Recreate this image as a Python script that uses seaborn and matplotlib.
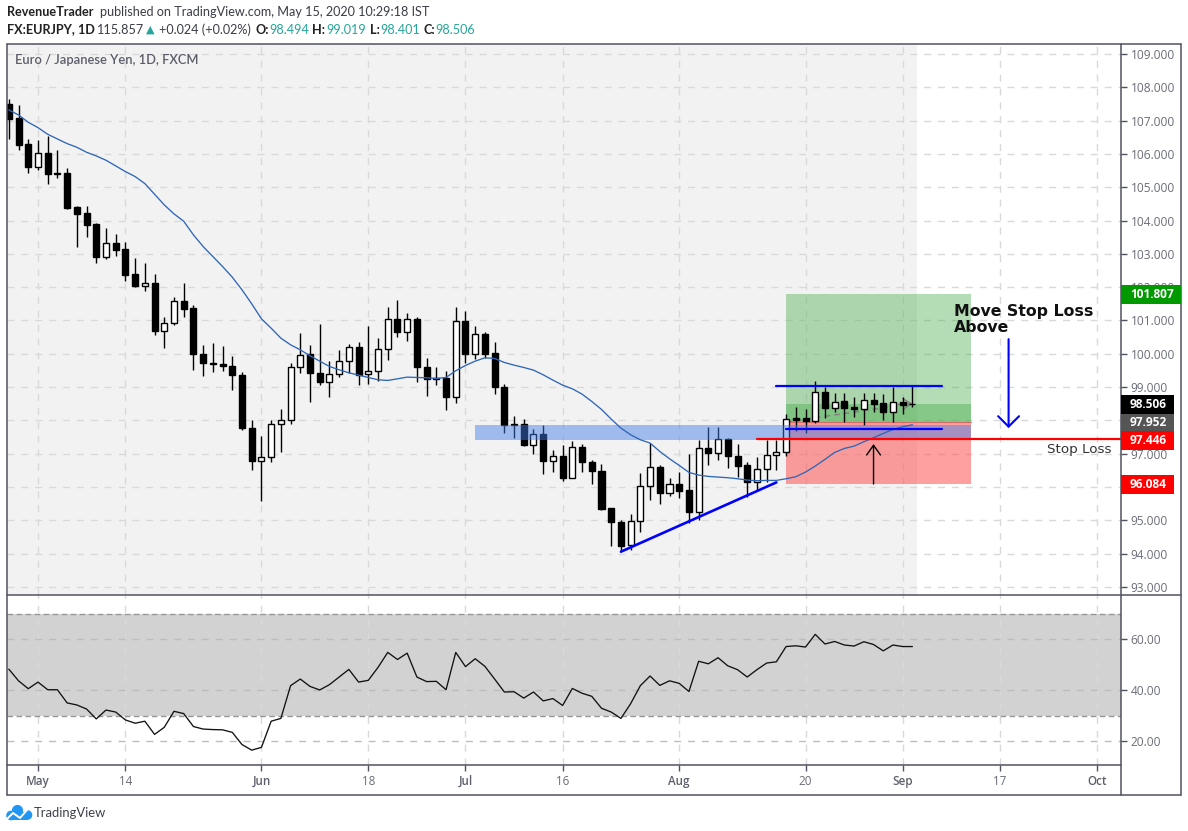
import matplotlib
matplotlib.use("Agg")
import matplotlib.pyplot as plt
import numpy as np
import pandas as pd
import seaborn as sns
from matplotlib.patches import Circle, Rectangle

# candles, one entry per daily bar
opens = [107.50, 107.08, 106.30, 105.62, 106.03, 105.43, 105.43, 104.40, 104.22, 103.90, 102.92, 103.32,
         103.15, 102.39, 102.05, 102.12, 100.67, 100.92, 101.58, 101.37, 99.99, 99.72, 99.69, 99.63,
         99.36, 97.77, 96.78, 96.90, 97.89, 98.01, 99.60, 99.98, 99.42, 99.14, 99.38, 99.78,
         100.20, 99.38, 99.48, 100.14, 101.04, 100.65, 101.04, 99.60, 99.27, 99.28, 98.70, 100.99,
         99.99, 100.60, 100.02, 99.00, 97.89, 97.89, 97.26, 97.60, 96.78, 96.93, 96.27, 97.20,
         96.75, 96.48, 95.37, 94.95, 94.25, 94.98, 96.03, 96.60, 95.81, 96.09, 95.91, 95.24,
         97.17, 97.01, 97.44, 96.92, 96.65, 96.14, 96.53, 96.95, 97.04, 98.06, 98.06, 97.99,
         98.84, 98.38, 98.57, 98.39, 98.35, 98.60, 98.51, 98.26, 98.55, 98.494]
highs = [107.65, 107.47, 106.44, 106.41, 106.54, 106.12, 105.57, 104.43, 104.44, 103.92, 103.77, 103.60,
         103.35, 102.88, 102.73, 102.40, 101.11, 101.70, 102.12, 101.46, 100.26, 100.32, 100.24, 99.94,
         99.45, 98.01, 97.54, 98.01, 98.34, 99.72, 100.62, 100.26, 100.89, 99.78, 100.12, 100.29,
         100.35, 100.84, 100.47, 101.40, 101.61, 101.22, 101.10, 99.87, 99.60, 99.48, 101.40, 101.28,
         100.82, 100.65, 100.35, 99.09, 98.14, 98.04, 97.74, 97.86, 97.11, 97.26, 97.39, 97.29,
         96.82, 96.69, 95.37, 95.02, 95.19, 96.42, 97.32, 96.65, 96.27, 96.46, 97.00, 97.40,
         97.81, 97.81, 97.47, 97.29, 96.74, 96.90, 97.41, 97.41, 98.19, 98.39, 98.33, 99.18,
         98.99, 98.81, 98.83, 98.69, 98.81, 98.81, 98.78, 99.01, 98.71, 99.019]
lows = [106.46, 106.13, 105.44, 105.52, 105.11, 105.28, 104.35, 103.22, 103.52, 102.74, 102.86, 102.95,
        102.20, 102.02, 101.90, 100.55, 100.18, 100.85, 101.12, 99.50, 99.34, 99.46, 99.49, 98.92,
        97.72, 96.50, 95.57, 96.74, 97.04, 97.90, 99.41, 98.54, 99.07, 98.69, 99.29, 99.42,
        99.07, 99.10, 99.17, 99.80, 100.49, 100.37, 99.14, 98.72, 99.05, 98.30, 98.51, 99.72,
        99.85, 99.87, 98.78, 97.61, 97.46, 97.22, 96.98, 96.40, 96.44, 96.17, 96.27, 96.46,
        96.10, 95.32, 94.22, 94.07, 94.12, 94.64, 95.62, 95.50, 95.72, 95.68, 94.92, 95.00,
        96.67, 96.82, 96.57, 96.31, 95.71, 95.91, 96.16, 96.51, 96.93, 97.69, 97.63, 97.92,
        98.06, 98.26, 97.94, 98.09, 97.87, 98.26, 98.01, 97.94, 98.19, 98.401]
closes = [107.05, 106.28, 105.62, 106.02, 105.41, 105.41, 104.39, 104.21, 103.88, 102.92, 103.32, 103.12,
          102.38, 102.05, 102.12, 100.67, 100.92, 101.58, 101.36, 99.98, 99.71, 99.68, 99.62, 99.35,
          97.76, 96.77, 96.90, 97.89, 98.01, 99.60, 99.96, 99.41, 99.14, 99.38, 99.78, 100.20,
          99.37, 99.48, 100.14, 101.04, 100.64, 101.04, 99.59, 99.24, 99.23, 98.69, 100.98, 99.98,
          100.59, 100.00, 98.99, 97.86, 97.85, 97.25, 97.58, 96.77, 96.93, 96.26, 97.20, 96.74,
          96.47, 95.35, 94.94, 94.24, 94.98, 96.03, 96.60, 95.81, 96.09, 95.89, 95.24, 97.17,
          97.01, 97.44, 96.92, 96.64, 96.14, 96.53, 96.95, 97.04, 98.03, 98.02, 97.99, 98.84,
          98.38, 98.56, 98.38, 98.34, 98.60, 98.49, 98.26, 98.54, 98.47, 98.506]

moving_avg = [107.32, 107.17, 106.95, 106.79, 106.59, 106.45, 106.31, 106.20, 106.05, 105.94, 105.81, 105.64,
              105.47, 105.32, 105.11, 104.79, 104.47, 104.20, 103.98, 103.57, 103.22, 102.92, 102.62, 102.30,
              101.92, 101.50, 101.05, 100.77, 100.47, 100.27, 100.12, 99.94, 99.78, 99.62, 99.52, 99.43,
              99.36, 99.29, 99.22, 99.20, 99.25, 99.30, 99.29, 99.28, 99.26, 99.29, 99.49, 99.65,
              99.78, 99.88, 99.86, 99.74, 99.66, 99.59, 99.51, 99.37, 99.21, 99.06, 98.95, 98.79,
              98.57, 98.33, 98.04, 97.77, 97.57, 97.42, 97.32, 97.07, 96.85, 96.65, 96.44, 96.36,
              96.32, 96.30, 96.28, 96.25, 96.21, 96.19, 96.20, 96.20, 96.25, 96.31, 96.45, 96.63,
              96.83, 97.04, 97.16, 97.23, 97.36, 97.48, 97.61, 97.73, 97.81, 97.87]

rsi = [48.3, 43.7, 40.6, 43.2, 40.2, 40.2, 35.0, 34.2, 32.6, 28.7, 32.2, 31.4,
       28.3, 27.0, 27.8, 22.6, 25.4, 31.7, 30.8, 25.7, 24.7, 24.5, 24.4, 23.4,
       18.6, 16.4, 17.5, 27.8, 28.9, 41.8, 44.4, 41.5, 40.1, 42.2, 45.2, 48.2,
       43.2, 43.9, 49.0, 54.9, 52.1, 54.6, 45.2, 43.4, 43.5, 40.2, 54.9, 49.3,
       52.4, 49.4, 44.4, 39.3, 39.4, 36.9, 39.3, 35.8, 36.7, 34.0, 40.7, 38.8,
       37.6, 32.9, 31.4, 28.9, 34.7, 41.8, 45.6, 41.9, 43.7, 42.7, 39.5, 51.4,
       50.4, 52.8, 49.6, 48.1, 45.2, 48.1, 50.7, 51.2, 57.2, 57.5, 57.0, 62.0,
       58.2, 59.2, 57.8, 57.4, 59.1, 58.0, 55.5, 57.8, 57.2, 57.2]

date_ticks = [3, 12, 26, 37, 47, 57, 69, 82, 92, 102, 112]
date_labels = ["May", "14", "Jun", "18", "Jul", "16", "Aug", "20", "Sep", "17", "Oct"]
price_ticks = list(range(93, 110))
covered_ticks = [96, 98]  # hidden behind the price tags on the axis
rsi_ticks = [20, 40, 60]

# position tool and hand drawn levels
target_price = 101.807
entry_price = 97.952
stop_price = 96.084
last_price = 98.506
stop_loss_line = 97.446
zone_low, zone_high = 97.41, 97.86
range_top, range_bottom = 99.02, 97.74
trend_x = [63, 79]
trend_y = [94.06, 96.14]

W, H = 1188, 831
INK = "#50535e"
LABEL = "#6a6d78"
GRID = "#d9d9d9"

sns.set_theme(style="white")
plt.rcParams["font.family"] = ["Open Sans", "DejaVu Sans"]

df = pd.DataFrame({"bar": np.arange(len(opens)), "open": opens, "high": highs, "low": lows,
                   "close": closes, "ma": moving_avg, "rsi": rsi})


def fx(x):
    return x / W


def fy(y):
    return 1 - y / H


def pane(left, top, right, bottom):
    return fig.add_axes([fx(left), fy(bottom), (right - left) / W, (bottom - top) / H])


def tag(text, top, bottom, colour, right=1174):
    fig.add_artist(Rectangle((fx(1121), fy(bottom)), (right - 1121) / W, (bottom - top) / H,
                             transform=fig.transFigure, fc=colour, ec="none", zorder=5))
    fig.text(fx(1130), fy((top + bottom) / 2), text, color="white", fontsize=8.6, fontweight="bold",
             va="center", ha="left", zorder=6)


fig = plt.figure(figsize=(W / 100, H / 100), dpi=100, facecolor="white")
ax = pane(6.5, 43.5, 1121, 595)
ax_rsi = pane(6.5, 595, 1121, 765)
dash = (0, (5, 5))

for a in (ax, ax_rsi):
    a.set_facecolor("none")
    a.set_axisbelow(True)
    a.set_xlim(-0.24, 114.47)
    a.set_xticks(date_ticks)
    a.grid(True, color=GRID, lw=1, ls=dash)
    a.yaxis.tick_right()
    for s in a.spines.values():
        s.set_visible(False)

# price pane
ax.set_ylim(92.76, 109.315)
ax.set_yticks(price_ticks)
ax.set_yticklabels(["" if p in covered_ticks else f"{p:.3f}" for p in price_ticks], color=LABEL, fontsize=8.6)
ax.tick_params(axis="y", length=4, width=1, color=INK, pad=3, right=True)
ax.tick_params(axis="x", length=0, labelbottom=False)
ax.axvspan(-0.24, 93.5, color="#f2f2f2", lw=0, zorder=0)

# long position box
ax.add_patch(Rectangle((80, entry_price), 19, target_price - entry_price, fc="#4caf50", alpha=0.42, lw=0, zorder=1))
ax.add_patch(Rectangle((80, entry_price), 19, last_price - entry_price, fc="#4caf50", alpha=0.45, lw=0, zorder=1))
ax.add_patch(Rectangle((80, stop_price), 19, entry_price - stop_price, fc="#ff5252", alpha=0.55, lw=0, zorder=1))
ax.plot([80, 99], [entry_price, entry_price], color="#d86a6a", lw=0.8, zorder=1.5)

# candles
up = df[df["close"] >= df["open"]]
down = df[df["close"] < df["open"]]
ax.vlines(df["bar"], df["low"], df["high"], color="black", lw=1.0, zorder=3)
ax.bar(up["bar"], up["close"] - up["open"], bottom=up["open"], width=0.62, fc="white", ec="black", lw=1.0, zorder=3.2)
ax.bar(down["bar"], down["close"] - down["open"], bottom=down["open"], width=0.62, fc="black", ec="black", lw=1.0, zorder=3.2)

# forecast dashes of the position tool
ax.plot([80, 93], [entry_price, last_price], color="#7d7d7d", lw=1, ls=(0, (4, 3)), zorder=2.5)
ax.annotate("", xy=(93, last_price), xytext=(91.5, last_price - 0.02),
            arrowprops=dict(arrowstyle="->,head_length=0.6,head_width=0.4", color="#7d7d7d", lw=1,
                            mutation_scale=10, shrinkA=0, shrinkB=0), zorder=2.5)

# resistance zone, sits on top of the candles
ax.add_patch(Rectangle((48, zone_low), 51, zone_high - zone_low, fc="#427ee9", alpha=0.47, lw=0, zorder=4))

sns.lineplot(data=df, x="bar", y="ma", ax=ax, color="#2f66b5", lw=0.95, estimator=None, legend=False, zorder=5)
ax.set_xlabel("")
ax.set_ylabel("")

ax.plot([79, 96], [range_top, range_top], color="#0000ff", lw=1.6, zorder=6)
ax.plot([80, 96], [range_bottom, range_bottom], color="#0000ff", lw=1.6, zorder=6)
ax.plot(trend_x, trend_y, color="#0000ff", lw=1.9, zorder=6)
ax.plot([77, 114.47], [stop_loss_line, stop_loss_line], color="#ff0000", lw=1.6, zorder=6)

ax.annotate("", xy=(89, 97.29), xytext=(89, 96.09),
            arrowprops=dict(arrowstyle="->,head_length=0.7,head_width=0.5", color="black", lw=1,
                            mutation_scale=10, shrinkA=0, shrinkB=0), zorder=7)
ax.annotate("", xy=(102.9, 97.77), xytext=(102.9, 100.44),
            arrowprops=dict(arrowstyle="->,head_length=0.75,head_width=0.75", color="#0000ff", lw=1.5,
                            mutation_scale=10, shrinkA=0, shrinkB=0), zorder=7)

fig.text(fx(954), fy(311.5), "Move Stop Loss", color="#111111", fontsize=11.3, fontweight="bold",
         family="DejaVu Sans", va="center", ha="left", zorder=8)
fig.text(fx(954), fy(327.5), "Above", color="#111111", fontsize=11.3, fontweight="bold",
         family="DejaVu Sans", va="center", ha="left", zorder=8)
fig.text(fx(1047), fy(449.5), "Stop Loss", color="#333333", fontsize=9.7, family="DejaVu Sans",
         va="center", ha="left", zorder=8)
fig.text(fx(15), fy(60.5), "Euro / Japanese Yen, 1D, FXCM", color="#5b5e68", fontsize=9.3,
         fontweight="semibold", family="Lato", va="center", ha="left")

# oscillator pane
ax_rsi.set_ylim(10.55, 77.5)
ax_rsi.axhspan(30, 70, color="#d2d2d2", lw=0, zorder=0)
ax_rsi.axhline(70, color="#969696", lw=1, ls=(0, (4, 2.5)), zorder=1)
ax_rsi.axhline(30, color="#969696", lw=1, ls=(0, (4, 2.5)), zorder=1)
ax_rsi.set_yticks(rsi_ticks)
ax_rsi.set_yticklabels([f"{v:.2f}" for v in rsi_ticks], color=LABEL, fontsize=8.6)
ax_rsi.tick_params(axis="y", length=4, width=1, color=INK, pad=3, right=True)
ax_rsi.grid(True, color="#bdbdbd", lw=1, ls=dash, axis="y")
ax_rsi.grid(True, color=GRID, lw=1, ls=dash, axis="x")
sns.lineplot(data=df, x="bar", y="rsi", ax=ax_rsi, color="#111111", lw=0.95, estimator=None, legend=False, zorder=3)
ax_rsi.set_xlabel("")
ax_rsi.set_ylabel("")
ax_rsi.set_xticklabels(date_labels, color=LABEL, fontsize=8.4)
ax_rsi.tick_params(axis="x", length=4, width=1, color=INK, pad=3, bottom=True)
for lab, text in zip(ax_rsi.get_xticklabels(), date_labels):
    if text.isalpha():
        lab.set_fontweight("semibold")
        lab.set_color("#5d606b")

# frame around panes
for x0, y0, x1, y1 in [(6.5, 43.5, 1181, 43.5), (6.5, 794.5, 1181, 794.5), (6.5, 43.5, 6.5, 794.5),
                       (1181, 43.5, 1181, 794.5), (1121, 43.5, 1121, 794.5), (6.5, 595, 1181, 595),
                       (6.5, 765, 1121, 765)]:
    fig.add_artist(plt.Line2D([fx(x0), fx(x1)], [fy(y0), fy(y1)], color=INK, lw=1.1, zorder=4))

# price tags on the axis
tag("101.807", 285, 304, "#009900", right=1181)
tag("98.506", 395, 414, "#000000")
tag("97.952", 414, 431, "#555555")
tag("97.446", 431, 450, "#ff0000")
tag("96.084", 475, 494, "#ff0000")

# header lines
head = dict(fontsize=9.05, family="Lato", va="center", ha="left", color="#3a3d46")
fig.text(fx(7), fy(12.5), "RevenueTrader", fontweight="bold", **{**head, "color": "#222222"})
fig.text(fx(100), fy(12.5), "published on TradingView.com, May 15, 2020 10:29:18 IST", **head)
fig.text(fx(7), fy(29.5), "FX:EURJPY, 1D", fontweight="bold", **{**head, "color": "#222222"})
fig.text(fx(97), fy(29.5), "115.857", **head)
fig.text(fx(145.5), fy(29.5), "\u25b2", color="#26a69a", fontsize=8, family="DejaVu Sans", va="center", ha="left")
fig.text(fx(159), fy(29.5), "+0.024 (+0.02%)", **head)
for lab, lx, val, vx in [("O:", 255, "98.494", 269), ("H:", 312, "99.019", 326),
                         ("L:", 370, "98.401", 380), ("C:", 423, "98.506", 435)]:
    fig.text(fx(lx), fy(29.5), lab, fontweight="bold", **{**head, "color": "#222222"})
    fig.text(fx(vx), fy(29.5), val, **{**head, "color": "#26a69a"})

# TradingView logo
logo = fig.add_axes([fx(6), fy(821), 27 / W, 17 / H])
logo.set_xlim(6, 33)
logo.set_ylim(821, 804)
logo.axis("off")
for cx, cy, r in [(11, 815.5, 4.8), (17.5, 810.5, 5.6), (27.5, 815, 4.8)]:
    logo.add_patch(Circle((cx, cy), r, fc="#2196f3", ec="none"))
logo.add_patch(Rectangle((11, 812), 17, 8.3, fc="#2196f3", ec="none"))
logo.plot([6, 13, 20, 27], [820, 813, 818, 810], color="white", lw=1.4)
fig.text(fx(34), fy(813), "TradingView", color="#3f424c", fontsize=9.4, family="Lato", va="center", ha="left")

fig.savefig("out.png", dpi=100)
